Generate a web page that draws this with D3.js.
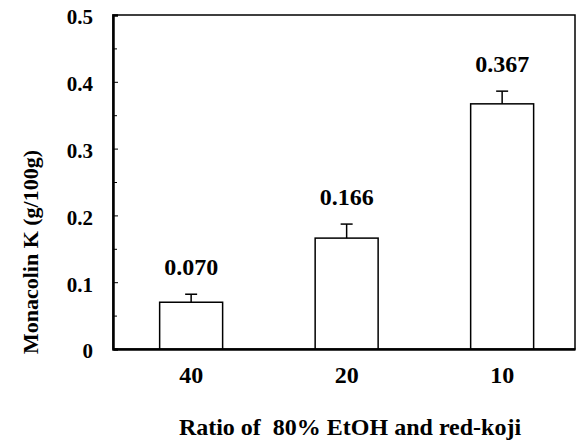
<!DOCTYPE html>
<html>
<head>
<meta charset="utf-8">
<script src="https://cdn.jsdelivr.net/npm/d3@7"></script>
</head>
<body style="margin:0; background:#fff">
<div id="chart"></div>
<script>
// data
var ratios = ["40", "20", "10"];
var monacolin = [0.070, 0.166, 0.367];
var errors = [0.012, 0.021, 0.019];
var labels = ["0.070", "0.166", "0.367"];
var yTicks = [0, 0.1, 0.2, 0.3, 0.4, 0.5];
var yMinor = [0.05, 0.15, 0.25, 0.35, 0.45];

var margin = {top: 15, right: 4, bottom: 92, left: 113},
    width = 579 - margin.left - margin.right,
    height = 441 - margin.top - margin.bottom;

var svg = d3.select("#chart")
  .append("svg")
  .attr("width", 579)
  .attr("height", 441)
  .append("g")
  .attr("transform", "translate(" + margin.left + "," + margin.top + ")");

// Times-like bold text
function bold(sel, size) {
  sel.attr("font-family", null)
     .style("font-family", "'Liberation Serif'")
     .style("font-weight", "bold")
     .style("font-size", size + "px")
     .attr("fill", "#000");
}

var x = d3.scaleBand().domain(ratios).range([0, width])
  .paddingInner(0.595).paddingOuter(0.283).align(0.53);
var y = d3.scaleLinear().domain([0, 0.5]).range([height, 0]);

// frame
svg.append("rect")
  .attr("x", 0).attr("y", 0)
  .attr("width", width).attr("height", height)
  .attr("fill", "none").attr("stroke", "#000").attr("stroke-width", 1.5);

// bars
svg.selectAll(".bar")
  .data(monacolin)
  .enter().append("rect")
  .attr("x", function(d, i) { return x(ratios[i]); })
  .attr("y", function(d) { return y(d); })
  .attr("width", x.bandwidth())
  .attr("height", function(d) { return y(0) - y(d); })
  .attr("fill", "#fff").attr("stroke", "#000").attr("stroke-width", 1.5);

// error bars + value labels
monacolin.forEach(function(d, i) {
  var cx = x(ratios[i]) + x.bandwidth() / 2;
  svg.append("line")
    .attr("x1", cx).attr("x2", cx)
    .attr("y1", y(d)).attr("y2", y(d + errors[i]))
    .attr("stroke", "#000").attr("stroke-width", 1.5);
  svg.append("line")
    .attr("x1", cx - 6).attr("x2", cx + 6)
    .attr("y1", y(d + errors[i])).attr("y2", y(d + errors[i]))
    .attr("stroke", "#000").attr("stroke-width", 1.5);
  svg.append("text")
    .attr("x", cx).attr("y", y(d + errors[i]) - 19)
    .attr("text-anchor", "middle")
    .call(bold, 24)
    .text(labels[i]);
});

// y axis
var yAxis = svg.append("g")
  .call(d3.axisLeft(y).tickValues(yTicks).tickSize(-5).tickPadding(20)
    .tickFormat(function(d) { return d === 0 ? "0" : d3.format(".1f")(d); }));
yAxis.attr("font-family", null).attr("font-size", null);
yAxis.select(".domain").attr("stroke-width", 2.5);
yAxis.selectAll("text").attr("dy", "0.42em").call(bold, 21);

svg.append("g")
  .call(d3.axisLeft(y).tickValues(yMinor).tickSize(-4).tickFormat(""))
  .select(".domain").remove();

// x axis
var xAxis = svg.append("g")
  .attr("transform", "translate(0," + height + ")")
  .call(d3.axisBottom(x).tickSize(0).tickPadding(17));
xAxis.attr("font-family", null).attr("font-size", null);
xAxis.select(".domain").attr("stroke-width", 2.5);
xAxis.selectAll("text").call(bold, 24);

// axis titles
svg.append("text")
  .attr("x", 237).attr("y", height + 86)
  .attr("text-anchor", "middle")
  .call(bold, 24)
  .text("Ratio of \u00a080% EtOH and red-koji");

svg.append("text")
  .attr("transform", "translate(-75," + 237 + ") rotate(-90)")
  .attr("text-anchor", "middle")
  .call(bold, 22)
  .text("Monacolin K (g/100g)");
</script>
</body>
</html>
